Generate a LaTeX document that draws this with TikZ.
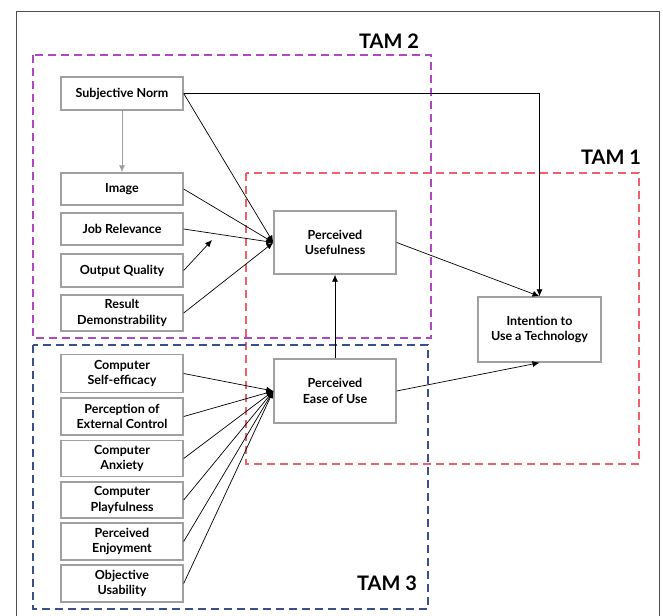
\documentclass[tikz,border=0pt]{standalone}
\usepackage{fontspec}
\setmainfont{Lato}
\usetikzlibrary{arrows.meta,positioning}
\definecolor{boxgray}{RGB}{160,160,160}
\definecolor{framegray}{RGB}{80,80,80}
\definecolor{tamone}{RGB}{238,96,110}
\definecolor{tamtwo}{RGB}{176,72,196}
\definecolor{tamthree}{RGB}{58,80,140}
\tikzset{
  factor box/.style={
    rectangle, draw=boxgray, line width=1.4pt, fill=white,
    align=center, minimum width=122pt, minimum height=33pt,
    inner sep=1pt, font=\fontsize{12.5}{15.5}\selectfont\bfseries
  },
  core box/.style={factor box, minimum height=63pt},
  tam frame/.style={dashed, dash pattern=on 8pt off 5pt, line width=1.3pt},
  tam label/.style={font=\fontsize{20}{21}\selectfont\bfseries},
  path arrow/.style={-{Latex[length=7pt,width=6pt]}, line width=0.7pt, black}
}

\begin{document}
\begin{tikzpicture}[x=1pt, y=-1pt]
    \useasboundingbox (0,0) rectangle (663,615);
    \draw[framegray, line width=1pt] (16,12) rectangle (659,625);

    % model frames
    \draw[tam frame, tamtwo] (33,55) rectangle (431,338);
    \draw[tam frame, tamone] (246,173) rectangle (639,464);
    \draw[tam frame, tamthree] (33,345) rectangle (428,609);
    \node[tam label] (tam2) at (389,41) {TAM 2};
    \node[tam label] (tam1) at (611,157) {TAM 1};
    \node[tam label] (tam3) at (387,583) {TAM 3};

    % TAM 2 determinants
    \node[factor box] (norm) at (122,93.5) {Subjective Norm};
    \node[factor box, minimum height=32pt] (image) at (122,189) {Image};
    \node[factor box, minimum height=32pt] (relevance) at (122,229) {Job Relevance};
    \node[factor box] (quality) at (122,270.5) {Output Quality};
    \node[factor box, minimum height=36pt] (demo) at (122,313) {Result\\Demonstrability};

    % TAM 3 determinants
    \node[factor box, minimum height=38pt] (efficacy) at (122,373.5) {Computer\\Self-efficacy};
    \node[factor box, minimum height=37pt] (control) at (122,416.5) {Perception of\\External Control};
    \node[factor box, minimum height=36pt] (anxiety) at (122,458.5) {Computer\\Anxiety};
    \node[factor box, minimum height=36pt] (playful) at (122,500) {Computer\\Playfulness};
    \node[factor box, minimum height=37pt] (enjoy) at (122,541.5) {Perceived\\Enjoyment};
    \node[factor box, minimum height=37pt] (usability) at (122,583.5) {Objective\\Usability};

    % core constructs
    \node[core box] (useful) at (335,242.5) {Perceived\\Usefulness};
    \node[core box, minimum height=64pt] (ease) at (335,391) {Perceived\\Ease of Use};
    \node[core box, minimum width=123pt, minimum height=65pt] (intent) at (539.5,329.5) {Intention to\\Use a Technology};
    \coordinate (qualitytip) at (212,240);

    \draw[path arrow, boxgray] (norm) -- (image);
    \foreach \src in {norm,image,relevance,demo}
      \draw[path arrow] (\src.east) -- (useful.west);
    \draw[path arrow] (quality.east) -- (qualitytip);
    \foreach \src in {efficacy,control,anxiety,playful,enjoy,usability}
      \draw[path arrow] (\src.east) -- (ease.west);
    \draw[path arrow] (ease) -- (useful);
    \draw[path arrow] (useful.east) -- (intent.north);
    \draw[path arrow] (ease.east) -- (intent.south);
    \draw[path arrow] (norm.east) -| (intent.north);
  \end{tikzpicture}
\end{document}
